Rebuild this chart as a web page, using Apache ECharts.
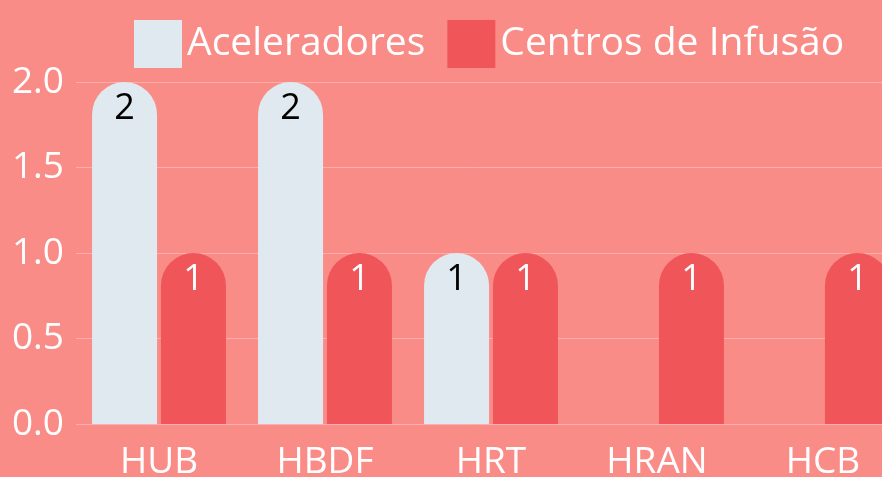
<!DOCTYPE html>
<html>
<head>
<meta charset="utf-8">
<script src="https://cdn.jsdelivr.net/npm/echarts@6/dist/echarts.min.js"></script>
<style>
  html, body { margin: 0; padding: 0; background: #fa8c88; }
  #chart { width: 882px; height: 477px; }
</style>
</head>
<body>
<div id="chart"></div>
<script>
  // dados
  var categorias = ['HUB', 'HBDF', 'HRT', 'HRAN', 'HCB'];
  var aceleradores = [2, 2, 1, null, null];
  var centrosInfusao = [1, 1, 1, 1, 1];
  var nomesSeries = ['Aceleradores', 'Centros de Infusão'];

  var fonte = '"Open Sans", sans-serif';
  var myChart = echarts.init(document.getElementById('chart'));

  var option = {
    backgroundColor: '#fa8c88',
    textStyle: { fontFamily: fonte },
    legend: {
      data: nomesSeries,
      left: 129,
      top: 15,
      itemWidth: 48,
      itemHeight: 48,
      itemGap: 22,
      icon: 'rect',
      textStyle: { color: '#fff', fontSize: 39, fontFamily: fonte }
    },
    grid: {
      left: 76,
      top: 82,
      width: 830,
      bottom: 53,
      containLabel: false,
      outerBoundsMode: 'none'
    },
    xAxis: {
      type: 'category',
      data: categorias,
      axisLine: { show: false },
      axisTick: { show: false },
      axisLabel: { color: '#fff', fontSize: 37, margin: 20, fontFamily: fonte }
    },
    yAxis: {
      type: 'value',
      min: 0,
      max: 2,
      interval: 0.5,
      axisLine: { show: false },
      axisTick: { show: false },
      axisLabel: {
        color: '#fff', fontSize: 37, margin: 12, fontFamily: fonte,
        formatter: function (v) { return v.toFixed(1); }
      },
      splitLine: { lineStyle: { color: 'rgba(255,255,255,0.3)', width: 1 } }
    },
    series: [
      {
        name: nomesSeries[0],
        type: 'bar',
        data: aceleradores,
        barWidth: 65,
        barGap: '6%',
        itemStyle: { color: '#e0e8f0', borderRadius: [33, 33, 0, 0] },
        label: {
          show: true, position: 'insideTop', distance: 9,
          color: '#000', fontSize: 36, fontFamily: fonte
        }
      },
      {
        name: nomesSeries[1],
        type: 'bar',
        data: centrosInfusao,
        barWidth: 65,
        itemStyle: { color: '#f05659', borderRadius: [33, 33, 0, 0] },
        label: {
          show: true, position: 'insideTop', distance: 9,
          color: '#fff', fontSize: 36, fontFamily: fonte
        }
      }
    ]
  };

  myChart.setOption(option);
</script>
</body>
</html>
